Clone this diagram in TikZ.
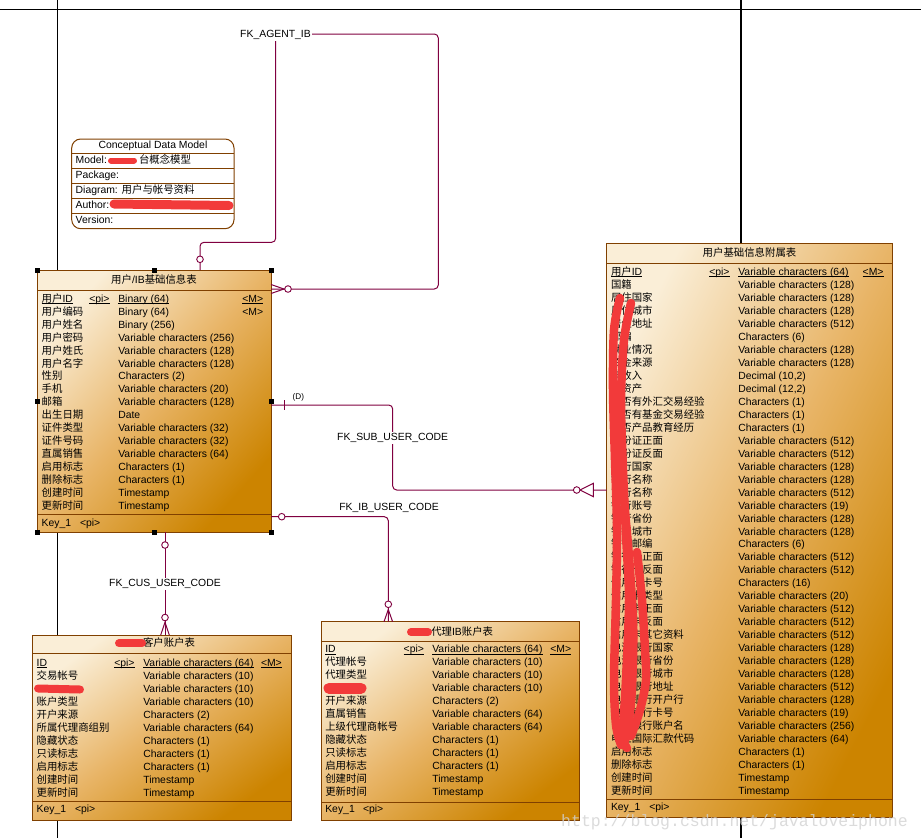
\documentclass[tikz,border=0pt]{standalone}
\usepackage{fontspec}
\setmainfont{Liberation Sans}
\newfontfamily\cjk{Noto Sans CJK SC}
\newfontfamily\wmfont{Liberation Mono}
\newcommand\zh[1]{{\cjk #1}}
\definecolor{tbord}{RGB}{128,64,0}
\definecolor{tlight}{RGB}{250,238,215}
\definecolor{tmid}{RGB}{232,180,102}
\definecolor{tdark}{RGB}{204,132,0}
\definecolor{relc}{RGB}{128,0,64}
\definecolor{scribc}{RGB}{242,58,58}
\begin{document}
\begin{tikzpicture}[x=1pt,y=-1pt,
 txt/.style={inner sep=0pt, outer sep=0pt, anchor=base west, font=\fontsize{10.4}{12}\selectfont},
 ctr/.style={inner sep=0pt, anchor=base, font=\fontsize{10.4}{12}\selectfont},
 lbl/.style={inner sep=1.5pt, anchor=base, font=\fontsize{10.4}{12}\selectfont},
 tbl/.style={draw=tbord, line width=1pt, inner sep=0pt, outer sep=0pt, top color=tlight, bottom color=tdark, middle color=tmid},
 tsep/.style={draw=tbord, line width=1pt},
 relline/.style={draw=relc, line width=1pt, rounded corners=4pt},
 relthin/.style={draw=relc, line width=1pt},
 relcirc/.style={circle, draw=relc, fill=white, line width=0.9pt, minimum size=6.6pt, inner sep=0pt},
 handle/.style={fill=black, minimum size=5pt, inner sep=0pt},
 scrib/.style={draw=scribc, line width=8.5pt, line cap=round, line join=round},
 bgline/.style={draw=black, line width=1.2pt},
 uline/.style={draw=black, line width=0.8pt}]
\useasboundingbox (0,0) rectangle (921,838);
\fill[white] (0,0) rectangle (921,838);
% background frame lines
\draw[bgline] (0,9.3) -- (921,9.3);
\draw[bgline] (57.6,0) -- (57.6,838);
\draw[bgline] (741,0) -- (741,838);

% conceptual data model box
\node[draw=tbord, line width=1pt, fill=white, rounded corners=9pt, minimum width=162.3pt, minimum height=89.7pt, inner sep=0pt] (CDM) at (152.85,183.85) {};
\foreach \yy in {153.3,168.3,183.3,198.3,213.3} \draw[tsep] (71.7,\yy) -- (234,\yy);
\node[ctr] (cdmT) at (153,148.5) {Conceptual Data Model};
\node[txt] (cdm1) at (75.7,163.5) {Model:};
\node[txt] (cdm1b) at (139,163.5) {\zh{台概念模型}};
\node[txt] (cdm2) at (75.7,178.5) {Package:};
\node[txt] (cdm3) at (75.7,193.5) {Diagram: \zh{用户与帐号资料}};
\node[txt] (cdm4) at (75.7,208.5) {Author:};
\node[txt] (cdm5) at (75.7,223.5) {Version:};

% ===== T1 main table =====
\node[tbl, minimum width=233.7pt, minimum height=262.3pt, shading angle=48] (T1) at (154.15,401.15) {};
\draw[tsep] (37.3,290) -- (271,290);
\draw[tsep] (37.3,514.3) -- (271,514.3);
\node[ctr] (T1title) at (154,283.5) {\zh{用户}/IB\zh{基础信息表}};
\node[txt] (T1n1) at (41.7,302.2) {\zh{用户}ID};
\node[txt] (T1p1) at (89.3,302.2) {<pi>};
\node[txt] (T1t1) at (118.3,302.2) {Binary (64)};
\node[txt] (T1m1) at (242.3,302.2) {<M>};
\foreach \n in {T1n1,T1p1,T1t1,T1m1} \draw[uline] ([yshift=-1.3pt]\n.base west) -- ([yshift=-1.3pt]\n.base east);
\node[txt] (T1m2) at (242.3,315.2) {<M>};
\foreach \nm/\ty [count=\i from 2] in {
{用户编码}/{Binary (64)},
{用户姓名}/{Binary (256)},
{用户密码}/{Variable characters (256)},
{用户姓氏}/{Variable characters (128)},
{用户名字}/{Variable characters (128)},
{性别}/{Characters (2)},
{手机}/{Variable characters (20)},
{邮箱}/{Variable characters (128)},
{出生日期}/{Date},
{证件类型}/{Variable characters (32)},
{证件号码}/{Variable characters (32)},
{直属销售}/{Variable characters (64)},
{启用标志}/{Characters (1)},
{删除标志}/{Characters (1)},
{创建时间}/{Timestamp},
{更新时间}/{Timestamp}}
{
 \node[txt] (T1n\i) at (41.7,{302.2+12.96*(\i-1)}) {\zh{\nm}};
 \node[txt] (T1t\i) at (118.3,{302.2+12.96*(\i-1)}) {\ty};
}
\node[txt] (T1k) at (41.7,526.2) {Key\_1};
\node[txt] (T1kp) at (80,526.2) {<pi>};

% ===== T2 customer account table =====
\node[tbl, minimum width=259pt, minimum height=185pt, shading angle=36] (T2) at (162.2,727.5) {};
\draw[tsep] (32.7,653.3) -- (291.7,653.3);
\draw[tsep] (32.7,801.7) -- (291.7,801.7);
\node[txt] (T2title) at (143,646.8) {\zh{客户账户表}};
\node[txt] (T2n1) at (36.7,666.2) {ID};
\node[txt] (T2p1) at (114.3,666.2) {<pi>};
\node[txt] (T2t1) at (143.3,666.2) {Variable characters (64)};
\node[txt] (T2m1) at (261,666.2) {<M>};
\foreach \n in {T2n1,T2p1,T2t1,T2m1} \draw[uline] ([yshift=-1.3pt]\n.base west) -- ([yshift=-1.3pt]\n.base east);
\foreach \nm/\ty [count=\i from 2] in {
{交易帐号}/{Variable characters (10)},
{}/{Variable characters (10)},
{账户类型}/{Variable characters (10)},
{开户来源}/{Characters (2)},
{所属代理商组别}/{Variable characters (64)},
{隐藏状态}/{Characters (1)},
{只读标志}/{Characters (1)},
{启用标志}/{Characters (1)},
{创建时间}/{Timestamp},
{更新时间}/{Timestamp}}
{
 \node[txt] (T2n\i) at (36.7,{666.2+13*(\i-1)}) {\zh{\nm}};
 \node[txt] (T2t\i) at (143.3,{666.2+13*(\i-1)}) {\ty};
}
\node[txt] (T2k) at (36.7,812.8) {Key\_1};
\node[txt] (T2kp) at (75,812.8) {<pi>};

% ===== T3 agent IB account table =====
\node[tbl, minimum width=258.4pt, minimum height=198.3pt, shading angle=37] (T3) at (450.5,720.85) {};
\draw[tsep] (321.3,641) -- (579.7,641);
\draw[tsep] (321.3,802.7) -- (579.7,802.7);
\node[txt] (T3title) at (431.3,635.2) {\zh{代理}IB\zh{账户表}};
\node[txt] (T3n1) at (325.3,652.8) {ID};
\node[txt] (T3p1) at (403.7,652.8) {<pi>};
\node[txt] (T3t1) at (432.3,652.8) {Variable characters (64)};
\node[txt] (T3m1) at (550.3,652.8) {<M>};
\foreach \n in {T3n1,T3p1,T3t1,T3m1} \draw[uline] ([yshift=-1.3pt]\n.base west) -- ([yshift=-1.3pt]\n.base east);
\foreach \nm/\ty [count=\i from 2] in {
{代理帐号}/{Variable characters (10)},
{代理类型}/{Variable characters (10)},
{}/{Variable characters (10)},
{开户来源}/{Characters (2)},
{直属销售}/{Variable characters (64)},
{上级代理商帐号}/{Variable characters (64)},
{隐藏状态}/{Characters (1)},
{只读标志}/{Characters (1)},
{启用标志}/{Characters (1)},
{创建时间}/{Timestamp},
{更新时间}/{Timestamp}}
{
 \node[txt] (T3n\i) at (325.3,{652.8+13*(\i-1)}) {\zh{\nm}};
 \node[txt] (T3t\i) at (432.3,{652.8+13*(\i-1)}) {\ty};
}
\node[txt] (T3k) at (325.3,812.8) {Key\_1};
\node[txt] (T3kp) at (363,812.8) {<pi>};

% ===== T4 user info attachment table =====
\node[tbl, minimum width=285.6pt, minimum height=573.7pt, shading angle=63] (T4) at (749.5,530.15) {};
\draw[tsep] (606.7,263.3) -- (892.3,263.3);
\draw[tsep] (606.7,799.3) -- (892.3,799.3);
\node[ctr] (T4title) at (749.5,256.2) {\zh{用户基础信息附属表}};
\node[txt] (T4n1) at (611,275.5) {\zh{用户}ID};
\node[txt] (T4p1) at (709.3,275.5) {<pi>};
\node[txt] (T4t1) at (738.3,275.5) {Variable characters (64)};
\node[txt] (T4m1) at (862.7,275.5) {<M>};
\foreach \n in {T4n1,T4p1,T4t1,T4m1} \draw[uline] ([yshift=-1.3pt]\n.base west) -- ([yshift=-1.3pt]\n.base east);
\foreach \nm/\ty [count=\i from 2] in {
{国籍}/{Variable characters (128)},
{居住国家}/{Variable characters (128)},
{居住城市}/{Variable characters (128)},
{居住地址}/{Variable characters (512)},
{邮编}/{Characters (6)},
{就业情况}/{Variable characters (128)},
{资金来源}/{Variable characters (128)},
{年收入}/{Decimal (10,2)},
{总资产}/{Decimal (12,2)},
{是否有外汇交易经验}/{Characters (1)},
{是否有基金交易经验}/{Characters (1)},
{是否产品教育经历}/{Characters (1)},
{身份证正面}/{Variable characters (512)},
{身份证反面}/{Variable characters (512)},
{银行国家}/{Variable characters (128)},
{银行名称}/{Variable characters (128)},
{支行名称}/{Variable characters (512)},
{银行账号}/{Variable characters (19)},
{银行省份}/{Variable characters (128)},
{银行城市}/{Variable characters (128)},
{银行邮编}/{Characters (6)},
{银行卡正面}/{Variable characters (512)},
{银行卡反面}/{Variable characters (512)},
{信用卡卡号}/{Characters (16)},
{信用卡类型}/{Variable characters (20)},
{信用卡正面}/{Variable characters (512)},
{信用卡反面}/{Variable characters (512)},
{信用卡其它资料}/{Variable characters (512)},
{电汇银行国家}/{Variable characters (128)},
{电汇银行省份}/{Variable characters (128)},
{电汇银行城市}/{Variable characters (128)},
{电汇银行地址}/{Variable characters (512)},
{电汇银行开户行}/{Variable characters (128)},
{电汇银行卡号}/{Variable characters (19)},
{电汇银行账户名}/{Variable characters (256)},
{电汇国际汇款代码}/{Variable characters (64)},
{启用标志}/{Characters (1)},
{删除标志}/{Characters (1)},
{创建时间}/{Timestamp},
{更新时间}/{Timestamp}}
{
 \node[txt] (T4n\i) at (611,{275.5+12.975*(\i-1)}) {\zh{\nm}};
 \node[txt] (T4t\i) at (738.3,{275.5+12.975*(\i-1)}) {\ty};
}
\node[txt] (T4k) at (611,810.6) {Key\_1};
\node[txt] (T4kp) at (649.3,810.6) {<pi>};

% ===== connectors =====
% FK_AGENT_IB (self reference)
\coordinate (ag1) at (200,242.3);
\coordinate (ag2) at (275.7,242.3);
\coordinate (ag3) at (275.7,34);
\coordinate (ag4) at (438.3,34);
\coordinate (ag5) at (438.3,289);
\coordinate (agE) at (T1.east |- ag5);
\coordinate (agA) at (284,289);
\draw[relline] (T1.north -| ag1) -- (ag1) -- (ag2) -- (ag3) -- (ag4) -- (ag5) -- (agE);
\node[lbl, fill=white] (agL) at (275.5,37.3) {FK\_AGENT\_IB};
\node[relcirc] (agC1) at (200,259.3) {};
\draw[relthin] ([yshift=4.5pt]agE) -- (agA) -- ([yshift=-4.5pt]agE);
\node[relcirc] (agC2) at (288,289) {};

% FK_SUB_USER_CODE
\coordinate (sb1) at (392.7,405);
\coordinate (sb2) at (392.7,490);
\coordinate (sbE) at (T4.west |- sb2);
\draw[relline] (T1.east |- sb1) -- (sb1) -- (sb2) -- (sbE);
\draw[relthin] (284.3,400) -- (284.3,410);
\node[inner sep=0pt, anchor=base, font=\fontsize{8.2}{9}\selectfont] (sbD) at (298.3,399.6) {(D)};
\node[lbl, fill=white] (sbL) at (392.7,440.8) {FK\_SUB\_USER\_CODE};
\draw[relthin, fill=white] (580,490) -- (593.3,483.3) -- (593.3,496.7) -- cycle;
\node[relcirc] (sbC) at (576.7,490) {};

% FK_IB_USER_CODE
\coordinate (ib1) at (388.3,516.7);
\coordinate (ibE) at (T3.north -| ib1);
\coordinate (ibA) at (388.3,609.5);
\draw[relline] (T1.east |- ib1) -- (ib1) -- (ibE);
\node[lbl] (ibL) at (389,510.2) {FK\_IB\_USER\_CODE};
\node[relcirc] (ibC1) at (281.7,516.7) {};
\draw[relthin] ([xshift=-4.3pt]ibE) -- (ibA) -- ([xshift=4.3pt]ibE);
\node[relcirc] (ibC2) at (388.3,604.3) {};

% FK_CUS_USER_CODE
\coordinate (cu1) at (165,583);
\coordinate (cuE) at (T2.north -| cu1);
\coordinate (cuA) at (165,622.3);
\draw[relline] (T1.south -| cu1) -- (cuE);
\node[lbl, fill=white] (cuL) at (165,586.5) {FK\_CUS\_USER\_CODE};
\node[relcirc] (cuC1) at (165,545) {};
\draw[relthin] ([xshift=-4.3pt]cuE) -- (cuA) -- ([xshift=4.3pt]cuE);
\node[relcirc] (cuC2) at (165,617.5) {};

% selection handles on T1
\node[handle] (h1) at (T1.north west) {};
\node[handle] (h2) at (T1.north) {};
\node[handle] (h3) at (T1.north east) {};
\node[handle] (h4) at (T1.west) {};
\node[handle] (h5) at (T1.east) {};
\node[handle] (h6) at (T1.south west) {};
\node[handle] (h7) at (T1.south) {};
\node[handle] (h8) at (T1.south east) {};

% red redaction scribbles
\draw[scrib, line width=6pt] (111,160.5) -- (134,160.5);
\draw[scrib, line width=9pt] (114,204) -- (229,205.5);
\draw[scrib, line width=8pt] (119,643.3) -- (142,643.3);
\draw[scrib, line width=8pt] (38,688.5) -- (80,689.5);
\draw[scrib, line width=8pt] (411,632) -- (428,632);
\draw[scrib, line width=11pt] (329,688.3) -- (361,688.3);
\draw[scrib] plot[smooth] coordinates {(620,298) (614,330) (613,390) (615,460) (617,530) (616,600) (614,680) (616,725) (621,745)};
\draw[scrib] plot[smooth] coordinates {(631,303) (624,340) (621,400) (623,470) (626,535) (629,600) (626,680) (623,735) (627,748)};
\draw[scrib] plot[smooth] coordinates {(637,552) (642,600) (645,650) (646,680) (640,710) (631,736)};
\draw[scrib, line width=7pt] plot[smooth] coordinates {(620,420) (623,480) (630,560) (634,630) (632,700) (626,740)};

% watermark
\node[anchor=base west, inner sep=0pt, text=gray!35, opacity=0.8, font=\wmfont\fontsize{16.5}{16.5}\selectfont] (wm) at (561,826) {http://blog.csdn.net/javaloveiphone};
\end{tikzpicture}
\end{document}
